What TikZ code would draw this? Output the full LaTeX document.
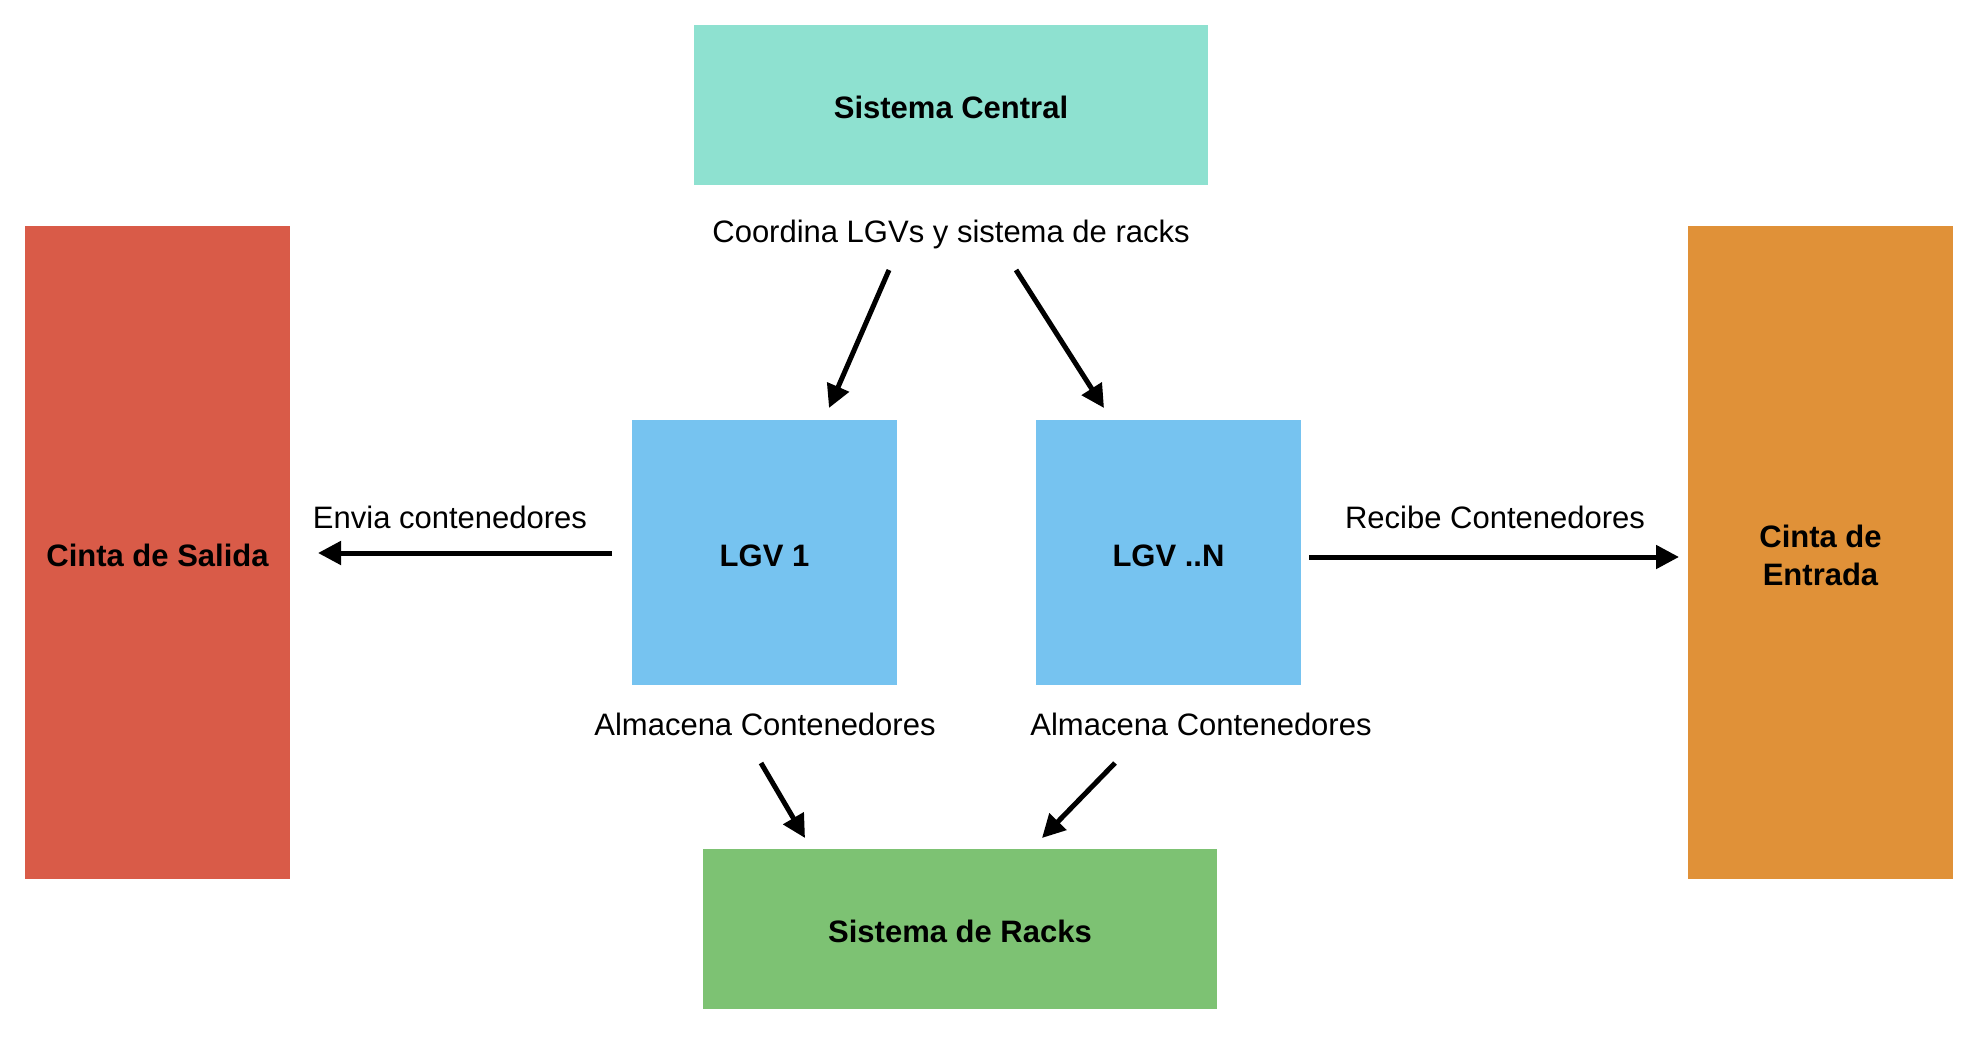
\documentclass[tikz,border=0pt]{standalone}
\usepackage{fontspec}
\setmainfont{Liberation Sans}
\usetikzlibrary{arrows.meta}
\definecolor{cteal}{RGB}{142,225,208}
\definecolor{cred}{RGB}{217,91,72}
\definecolor{corange}{RGB}{224,145,56}
\definecolor{cblue}{RGB}{118,195,240}
\definecolor{cgreen}{RGB}{125,194,115}
\tikzset{
  blk/.style={rectangle, inner sep=0pt, text height=28pt, font=\fontsize{31}{38}\selectfont\bfseries, text=black, align=center},
  lbl/.style={inner sep=0pt, anchor=base, font=\fontsize{31}{38}\selectfont, text=black},
  conn/.style={line width=5pt, -{Triangle[length=23pt,width=23pt]}}
}
\begin{document}
\begin{tikzpicture}[x=1pt,y=-1pt]
\useasboundingbox[fill=white] (0,0) rectangle (1978,1048);
% boxes
\node[blk, fill=cteal, minimum width=514pt, minimum height=160pt] (central) at (951,105) {Sistema Central};
\node[blk, fill=cred, minimum width=265pt, minimum height=653pt] (salida) at (157.5,552.5) {Cinta de Salida};
\node[blk, fill=corange, minimum width=265pt, minimum height=653pt, text height=66pt] (entrada) at (1820.5,552.5) {Cinta de\\Entrada};
\node[blk, fill=cblue, minimum width=265pt, minimum height=265pt] (lgv1) at (764.5,552.5) {LGV 1};
\node[blk, fill=cblue, minimum width=265pt, minimum height=265pt] (lgvn) at (1168.5,552.5) {LGV ..N};
\node[blk, fill=cgreen, minimum width=514pt, minimum height=160pt] (racks) at (960,929) {Sistema de Racks};
% labels
\node[lbl] (lcoord) at (951,243) {Coordina LGVs y sistema de racks};
\node[lbl] (lenvia) at (450,528) {Envia contenedores};
\node[lbl] (lrecibe) at (1495,528) {Recibe Contenedores};
\node[lbl] (lalm1) at (765,735) {Almacena Contenedores};
\node[lbl] (lalm2) at (1201,735) {Almacena Contenedores};
% arrow end points
\coordinate (c1s) at (889,270);
\coordinate (c1e) at (829,408);
\coordinate (c2s) at (1016,270);
\coordinate (c2e) at (1104,408);
\coordinate (es) at (612,553);
\coordinate (ee) at (318,553);
\coordinate (rs) at (1309,557);
\coordinate (re) at (1679,557);
\coordinate (a1s) at (761,763);
\coordinate (a1e) at (805,838);
\coordinate (a2s) at (1115,763);
\coordinate (a2e) at (1042,838);
% connectors
\draw[conn] (c1s) -- (c1e);
\draw[conn] (c2s) -- (c2e);
\draw[conn] (es) -- (ee);
\draw[conn] (rs) -- (re);
\draw[conn] (a1s) -- (a1e);
\draw[conn] (a2s) -- (a2e);
\end{tikzpicture}
\end{document}
